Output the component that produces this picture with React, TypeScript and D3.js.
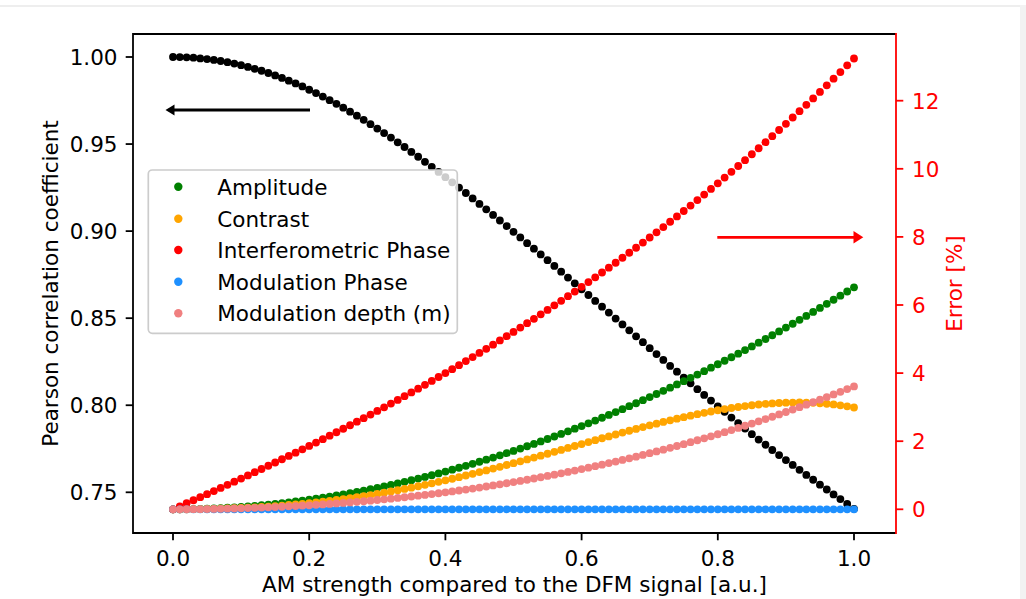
import React from "react";
import * as d3 from "d3";

const X = [0,0.01,0.02,0.03,0.04,0.05,0.06,0.07,0.08,0.09,0.1,0.11,0.12,0.13,0.14,0.15,0.16,0.17,0.18,0.19,0.2,0.21,0.22,0.23,0.24,0.25,0.26,0.27,0.28,0.29,0.3,0.31,0.32,0.33,0.34,0.35,0.36,0.37,0.38,0.39,0.4,0.41,0.42,0.43,0.44,0.45,0.46,0.47,0.48,0.49,0.5,0.51,0.52,0.53,0.54,0.55,0.56,0.57,0.58,0.59,0.6,0.61,0.62,0.63,0.64,0.65,0.66,0.67,0.68,0.69,0.7,0.71,0.72,0.73,0.74,0.75,0.76,0.77,0.78,0.79,0.8,0.81,0.82,0.83,0.84,0.85,0.86,0.87,0.88,0.89,0.9,0.91,0.92,0.93,0.94,0.95,0.96,0.97,0.98,0.99,1.0];

const pearson = [1.0000,0.99995,0.9998,0.9996,0.9992,0.9988,0.9983,0.9977,0.9970,0.9962,
0.9953,0.9943,0.9932,0.9921,0.9908,0.9894,0.9880,0.9864,0.9848,0.9831,
0.9812,0.9793,0.9773,0.9752,0.9731,0.9709,0.9686,0.9663,0.9639,0.9614,
0.9589,0.9563,0.9537,0.9510,0.9483,0.9455,0.9427,0.9398,0.9369,0.9340,
0.9310,0.9280,0.9250,0.9219,0.9188,0.9156,0.9125,0.9093,0.9061,0.9029,
0.8996,0.8964,0.8931,0.8899,0.8866,0.8833,0.8800,0.8767,0.8733,0.8700,
0.8666,0.8633,0.8599,0.8566,0.8532,0.8498,0.8464,0.8430,0.8396,0.8362,
0.8328,0.8294,0.8260,0.8226,0.8193,0.8159,0.8126,0.8092,0.8059,0.8027,
0.7994,0.7962,0.7929,0.7897,0.7866,0.7834,0.7803,0.7773,0.7743,0.7714,
0.7685,0.7657,0.7629,0.7600,0.7572,0.7544,0.7516,0.7488,0.7461,0.7433,0.7405];

const amplitude = [0,0.001,0.003,0.006,0.011,0.018,0.026,0.035,0.046,0.058,
0.071,0.086,0.103,0.120,0.139,0.160,0.182,0.205,0.229,0.255,
0.283,0.311,0.341,0.373,0.405,0.439,0.475,0.512,0.550,0.589,
0.630,0.672,0.715,0.760,0.806,0.853,0.901,0.951,1.002,1.055,
1.108,1.163,1.220,1.277,1.336,1.396,1.457,1.520,1.584,1.649,
1.715,1.783,1.851,1.921,1.992,2.065,2.138,2.213,2.289,2.367,
2.445,2.525,2.606,2.688,2.771,2.855,2.941,3.028,3.115,3.205,
3.295,3.386,3.479,3.572,3.667,3.763,3.860,3.958,4.058,4.158,
4.260,4.363,4.466,4.571,4.677,4.784,4.893,5.002,5.112,5.224,
5.336,5.450,5.565,5.680,5.797,5.915,6.034,6.154,6.275,6.397,6.520];

const contrast = [0,0.0003,0.0013,0.0029,0.0054,0.0086,0.0127,0.0177,0.0236,0.0306,
0.0385,0.0475,0.0577,0.0689,0.0813,0.0949,0.1097,0.1257,0.1430,0.1616,
0.1814,0.2025,0.2250,0.2488,0.2738,0.3002,0.3280,0.3570,0.3875,0.4191,
0.4522,0.4865,0.5221,0.5590,0.5971,0.6364,0.6770,0.7187,0.7617,0.8058,
0.8509,0.8970,0.9442,0.9924,1.0415,1.0918,1.1428,1.1946,1.2471,1.3004,
1.3543,1.4089,1.4640,1.5195,1.5752,1.6312,1.6880,1.7449,1.8020,1.8594,
1.9157,1.9732,2.0301,2.0870,2.1416,2.1973,2.2528,2.3075,2.3615,2.4147,
2.4650,2.5160,2.5656,2.6142,2.6613,2.7069,2.7511,2.7934,2.8340,2.8726,
2.9090,2.9433,2.9752,3.0048,3.0317,3.0559,3.0771,3.0955,3.1105,3.1224,
3.1307,3.1354,3.1364,3.1335,3.1265,3.1152,3.0996,3.0796,3.0547,3.0247,2.9900];

const interferometricPhase = [0,0.088,0.177,0.266,0.355,0.445,0.536,0.627,0.718,0.810,
0.903,0.996,1.089,1.184,1.279,1.374,1.470,1.567,1.664,1.762,
1.861,1.960,2.060,2.161,2.263,2.365,2.468,2.572,2.677,2.782,
2.888,2.996,3.104,3.212,3.322,3.433,3.544,3.657,3.770,3.885,
4.000,4.116,4.234,4.352,4.471,4.592,4.713,4.836,4.959,5.084,
5.210,5.337,5.465,5.594,5.725,5.856,5.989,6.123,6.259,6.395,
6.533,6.672,6.812,6.954,7.097,7.241,7.387,7.534,7.682,7.832,
7.983,8.135,8.289,8.445,8.602,8.760,8.920,9.081,9.244,9.409,
9.574,9.742,9.911,10.082,10.254,10.428,10.603,10.781,10.959,11.140,
11.322,11.506,11.692,11.879,12.068,12.259,12.451,12.646,12.842,13.040,13.240];

const modulationPhase = [0,0,0,0,0,0,0,0,0,0,
0,0,0,0,0,0,0,0,0,0,
0,0,0,0,0,0,0,0,0,0,
0,0,0,0,0,0,0,0,0,0,
0,0,0,0,0,0,0,0,0,0,
0,0,0,0,0,0,0,0,0,0,
0,0,0,0,0,0,0,0,0,0,
0,0,0,0,0,0,0,0,0,0,
0,0,0,0,0,0,0,0,0,0,
0,0,0,0,0,0,0,0,0,0,0];

const modulationDepth = [0,0.0003,0.0011,0.0025,0.0045,0.0071,0.0102,0.0139,0.0182,0.0231,
0.0286,0.0347,0.0415,0.0488,0.0568,0.0654,0.0746,0.0844,0.0949,0.1061,
0.1178,0.1303,0.1434,0.1572,0.1716,0.1867,0.2025,0.2190,0.2362,0.2540,
0.2726,0.2919,0.3119,0.3326,0.3540,0.3761,0.3990,0.4226,0.4470,0.4721,
0.4979,0.5245,0.5519,0.5800,0.6089,0.6386,0.6690,0.7003,0.7323,0.7651,
0.7988,0.8332,0.8684,0.9045,0.9413,0.9790,1.0176,1.0569,1.0971,1.1382,
1.1801,1.2228,1.2664,1.3109,1.3563,1.4025,1.4496,1.4976,1.5464,1.5962,
1.6469,1.6985,1.7509,1.8043,1.8587,1.9139,1.9701,2.0272,2.0852,2.1442,
2.2042,2.2651,2.3269,2.3897,2.4535,2.5183,2.5840,2.6507,2.7185,2.7872,
2.8569,2.9276,2.9993,3.0720,3.1458,3.2206,3.2964,3.3732,3.4511,3.5300,3.6100];

const xTicks = [0, 0.2, 0.4, 0.6, 0.8, 1.0];
const leftTicks = [0.75, 0.8, 0.85, 0.9, 0.95, 1.0];
const rightTicks = [0, 2, 4, 6, 8, 10, 12];

const seriesNames = ["Amplitude", "Contrast", "Interferometric Phase", "Modulation Phase", "Modulation depth (m)"];
const seriesColors = ["#008000", "#FFA500", "#FF0000", "#1E90FF", "#F08080"];
const seriesData = [amplitude, contrast, interferometricPhase, modulationPhase, modulationDepth];

const W = 1026, H = 599;
const L = 133, R = 896, T = 34, B = 533;
const FONT = "DejaVu Sans, sans-serif";
const FS = 21.5;
const HALF = 7.8;

export default function App() {
  const x = d3.scaleLinear().domain([0, 1]).range([173, 854]);
  const yL = d3.scaleLinear().domain([0.75, 1.0]).range([492.3, 57]);
  const yR = d3.scaleLinear().domain([0, 12]).range([509.3, 100.7]);
  const r = 3.9;
  const legendRowY = [186.7, 218.7, 250, 281.7, 313.3];

  return (
    <svg width={W} height={H} style={{ position: "absolute", left: 0, top: 0, background: "#fff" }} fontFamily={FONT}>
      <rect x={0} y={0} width={W} height={H} fill="#fff" />
      <rect x={0} y={5} width={W} height={2} fill="#eeeeee" />
      <rect x={1020} y={5} width={6} height={H} fill="#f2f2f2" />

      <g>
        {X.map((v, i) => (
          <circle key={"p" + i} cx={x(v)} cy={yL(pearson[i])} r={r} fill="#000" />
        ))}
      </g>
      {seriesData.map((arr, si) => (
        <g key={"s" + si}>
          {X.map((v, i) => (
            <circle key={i} cx={x(v)} cy={yR(arr[i])} r={r} fill={seriesColors[si]} />
          ))}
        </g>
      ))}

      <line x1={L} y1={T} x2={R} y2={T} stroke="#000" strokeWidth={1.8} />
      <line x1={L} y1={B} x2={R} y2={B} stroke="#000" strokeWidth={1.8} />
      <line x1={L} y1={T - 0.9} x2={L} y2={B + 0.9} stroke="#000" strokeWidth={1.8} />
      <line x1={R} y1={T - 0.9} x2={R} y2={B + 0.9} stroke="#FF0000" strokeWidth={1.8} />

      {xTicks.map((t) => (
        <g key={"xt" + t}>
          <line x1={x(t)} x2={x(t)} y1={B} y2={B + 7.3} stroke="#000" strokeWidth={1.8} />
          <text x={x(t)} y={565.7} textAnchor="middle" fontSize={FS} fill="#000">{d3.format(".1f")(t)}</text>
        </g>
      ))}
      {leftTicks.map((t) => (
        <g key={"lt" + t}>
          <line x1={L - 7.3} x2={L} y1={yL(t)} y2={yL(t)} stroke="#000" strokeWidth={1.8} />
          <text x={L - 15.5} y={yL(t) + HALF} textAnchor="end" fontSize={FS} fill="#000">{d3.format(".2f")(t)}</text>
        </g>
      ))}
      {rightTicks.map((t) => (
        <g key={"rt" + t}>
          <line x1={R} x2={R + 7.3} y1={yR(t)} y2={yR(t)} stroke="#FF0000" strokeWidth={1.8} />
          <text x={R + 16} y={yR(t) + HALF} textAnchor="start" fontSize={FS} fill="#FF0000">{d3.format("d")(t)}</text>
        </g>
      ))}

      <text x={(L + R) / 2} y={592} textAnchor="middle" fontSize={FS} fill="#000">AM strength compared to the DFM signal [a.u.]</text>
      <text transform={`translate(58,${(T + B) / 2}) rotate(-90)`} textAnchor="middle" fontSize={FS} fill="#000">Pearson correlation coefficient</text>
      <text transform={`translate(962,${(T + B) / 2}) rotate(-90)`} textAnchor="middle" fontSize={FS} fill="#FF0000">Error [%]</text>

      <line x1={310} y1={110} x2={172} y2={110} stroke="#000" strokeWidth={2.8} />
      <polygon points="165.5,110 174.5,104.5 174.5,115.5" fill="#000" />
      <line x1={717.3} y1={237.3} x2={856} y2={237.3} stroke="#FF0000" strokeWidth={2.8} />
      <polygon points="863.3,237.3 853.5,231 853.5,243.6" fill="#FF0000" />

      <rect x={148.3} y={170} width={309} height={163.3} rx={4} fill="#fff" fillOpacity={0.8} stroke="#cccccc" strokeWidth={1.7} />
      {seriesNames.map((n, i) => (
        <g key={"lg" + i}>
          <circle cx={178.3} cy={legendRowY[i]} r={4.2} fill={seriesColors[i]} />
          <text x={217.3} y={legendRowY[i] + HALF} fontSize={FS} fill="#000">{n}</text>
        </g>
      ))}
    </svg>
  );
}
